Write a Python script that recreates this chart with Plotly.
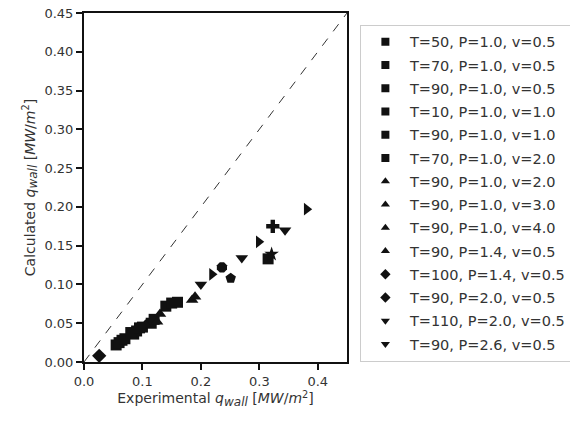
import plotly.graph_objects as go

# Legend labels and legend symbols
labels = [
    "T=50, P=1.0, v=0.5", "T=70, P=1.0, v=0.5", "T=90, P=1.0, v=0.5",
    "T=10, P=1.0, v=1.0", "T=90, P=1.0, v=1.0", "T=70, P=1.0, v=2.0",
    "T=90, P=1.0, v=2.0", "T=90, P=1.0, v=3.0", "T=90, P=1.0, v=4.0",
    "T=90, P=1.4, v=0.5", "T=100, P=1.4, v=0.5", "T=90, P=2.0, v=0.5",
    "T=110, P=2.0, v=0.5", "T=90, P=2.6, v=0.5",
]
legend_symbols = ["square"] * 6 + ["triangle-up"] * 4 + ["diamond"] * 2 + ["triangle-down"] * 2

# Data per series (experimental x, calculated y) and plotted symbols
exp_vals = [
    [0.055, 0.065],
    [0.060, 0.085],
    [0.070, 0.100],
    [0.090, 0.115],
    [0.120, 0.140],
    [0.150, 0.315],
    [0.185, 0.251],
    [0.130, 0.190],
    [0.105, 0.160],
    [0.125, 0.236],
    [0.026, 0.080],
    [0.095, 0.323],
    [0.200, 0.270, 0.344],
    [0.219, 0.299, 0.381, 0.321],
]
calc_vals = [
    [0.022, 0.028],
    [0.025, 0.036],
    [0.030, 0.045],
    [0.040, 0.050],
    [0.055, 0.072],
    [0.076, 0.133],
    [0.080, 0.108],
    [0.062, 0.084],
    [0.048, 0.077],
    [0.052, 0.122],
    [0.008, 0.038],
    [0.044, 0.175],
    [0.100, 0.134, 0.170],
    [0.113, 0.155, 0.197, 0.139],
]
plot_symbols = [
    ["square", "square"],
    ["square", "square"],
    ["square", "square"],
    ["square", "square"],
    ["square", "square"],
    ["square", "square"],
    ["triangle-up", "pentagon"],
    ["triangle-up", "triangle-up"],
    ["triangle-up", "square"],
    ["triangle-up", "octagon"],
    ["diamond", "square"],
    ["square", "cross"],
    ["triangle-down", "triangle-down", "triangle-down"],
    ["triangle-right", "triangle-right", "triangle-right", "star"],
]

x_ticks = [0.0, 0.1, 0.2, 0.3, 0.4]
y_ticks = [0.00, 0.05, 0.10, 0.15, 0.20, 0.25, 0.30, 0.35, 0.40, 0.45]
lim = 0.45

fig = go.Figure()

# identity line
fig.add_trace(go.Scatter(
    x=[0, lim], y=[0, lim], mode="lines",
    line=dict(color="#333333", width=1, dash="dash"),
    showlegend=False, hoverinfo="skip",
))

for i, lab in enumerate(labels):
    fig.add_trace(go.Scatter(
        x=exp_vals[i], y=calc_vals[i], mode="markers",
        marker=dict(symbol=plot_symbols[i], size=11, color="#111111", line=dict(width=0)),
        showlegend=False, name=lab,
    ))

for i, lab in enumerate(labels):
    fig.add_trace(go.Scatter(
        x=[None], y=[None], mode="markers", name=lab,
        legendgroup="g%d" % i,
        marker=dict(symbol=legend_symbols[i], size=8, color="#111111", line=dict(width=0)),
    ))

axis_common = dict(
    showline=True, linecolor="#111111", linewidth=2, mirror=True,
    ticks="outside", ticklen=6, tickwidth=1.5, tickcolor="#111111",
    showgrid=False, zeroline=False,
    tickfont=dict(family="DejaVu Sans", size=13, color="#333333"),
)

math_label = ("<i>q</i><sub><span style='font-size:12px'><i>wall</i></span></sub> "
              "[<i>MW</i>/<i>m</i><sup>2</sup>]")

fig.update_xaxes(
    range=[0, lim], tickvals=x_ticks, ticktext=["%.1f" % v for v in x_ticks],
    title=dict(text="Experimental " + math_label,
               font=dict(family="DejaVu Sans", size=14, color="#333333"), standoff=5),
    **axis_common,
)
fig.update_yaxes(
    range=[0, lim], tickvals=y_ticks, ticktext=["%.2f" % v for v in y_ticks],
    title=dict(text="Calculated " + math_label,
               font=dict(family="DejaVu Sans", size=14, color="#333333"), standoff=6),
    **axis_common,
)

fig.update_layout(
    width=570, height=422,
    margin=dict(l=84, r=223, t=13, b=60, autoexpand=False),
    plot_bgcolor="white", paper_bgcolor="white",
    font=dict(family="DejaVu Sans", size=13, color="#333333"),
    legend=dict(
        x=1.049, y=0.966, xanchor="left", yanchor="top",
        bordercolor="#cccccc", borderwidth=1,
        font=dict(family="DejaVu Sans", size=14.5, color="#333333"),
        tracegroupgap=1.4, itemwidth=39,
    ),
)

fig.write_html("out.html")
